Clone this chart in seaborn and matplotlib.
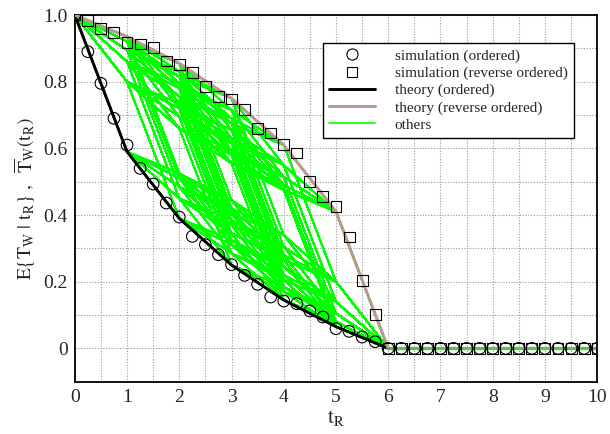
import itertools
import numpy as np
import pandas as pd
import matplotlib
matplotlib.use('Agg')
import matplotlib.pyplot as plt
from matplotlib.lines import Line2D
from matplotlib.ticker import MultipleLocator
import seaborn as sns

# ── Data ──────────────────────────────────────────────────────────────
# job weights, largest first (ordered theory = cumulative drop)
weights = [0.41, 0.20, 0.14, 0.105, 0.08, 0.065]
t_int = [0, 1, 2, 3, 4, 5, 6]
t_tail = [6, 10]
tail_vals = [0.0, 0.0]

t_sim = [0, 0.25, 0.5, 0.75, 1, 1.25, 1.5, 1.75, 2, 2.25, 2.5, 2.75, 3,
         3.25, 3.5, 3.75, 4, 4.25, 4.5, 4.75, 5, 5.25, 5.5, 5.75, 6,
         6.25, 6.5, 6.75, 7, 7.25, 7.5, 7.75, 8, 8.25, 8.5, 8.75, 9,
         9.25, 9.5, 9.75, 10]
sim_ordered = [1.0, 0.89, 0.795, 0.69, 0.61, 0.54, 0.493, 0.436, 0.394,
               0.336, 0.311, 0.281, 0.251, 0.219, 0.192, 0.154, 0.142,
               0.134, 0.112, 0.094, 0.059, 0.051, 0.034, 0.02, 0.0,
               0, 0, 0, 0, 0, 0, 0, 0, 0, 0, 0, 0, 0, 0, 0, 0]
sim_reverse = [1.0, 0.983, 0.96, 0.947, 0.917, 0.913, 0.902, 0.862, 0.852,
               0.827, 0.785, 0.755, 0.748, 0.716, 0.66, 0.646, 0.611,
               0.586, 0.501, 0.456, 0.426, 0.334, 0.204, 0.102, 0.0,
               0, 0, 0, 0, 0, 0, 0, 0, 0, 0, 0, 0, 0, 0, 0, 0]


def remaining(order):
    vals = [1.0]
    for w in order:
        vals.append(vals[-1] - w)
    vals[-1] = 0.0
    return vals


theory_ordered = remaining(weights)
theory_reverse = remaining(weights[::-1])

# every other processing order -> "others"
rows = []
for k, perm in enumerate(itertools.permutations(weights)):
    if list(perm) in (weights, weights[::-1]):
        continue
    for t, v in zip(t_int, remaining(perm)):
        rows.append((k, t, v))
others = pd.DataFrame(rows, columns=['perm', 't', 'v'])

# ── Style ─────────────────────────────────────────────────────────────
sns.set_theme(style='white')
plt.rcParams['font.family'] = ['Liberation Serif', 'DejaVu Serif']
plt.rcParams['mathtext.fontset'] = 'stix'

fig = plt.figure(figsize=(6.1, 4.34), dpi=100)
ax = fig.add_axes([0.1226, 0.1205, 0.8564, 0.8449])

sns.lineplot(data=others, x='t', y='v', units='perm', estimator=None,
             color='#00ff00', lw=1.1, ax=ax, legend=False, zorder=2)
ax.plot(t_tail, tail_vals, color='#5cc44a', lw=2.4, zorder=2)
sns.lineplot(x=t_int, y=theory_ordered, color='black', lw=2.1, ax=ax,
             zorder=3)
sns.lineplot(x=t_int, y=theory_reverse, color='#bc9a94', lw=2.2, ax=ax,
             zorder=3)
ax.scatter(t_sim, sim_ordered, s=70, marker='o', facecolors='none',
           edgecolors='black', linewidths=0.8, zorder=4)
ax.scatter(t_sim, sim_reverse, s=62, marker='s', facecolors='none',
           edgecolors='black', linewidths=0.8, zorder=5)

ax.set_xlim(0, 10)
ax.set_ylim(-0.1, 1.0)
ax.xaxis.set_major_locator(MultipleLocator(1))
ax.xaxis.set_minor_locator(MultipleLocator(0.5))
ax.yaxis.set_minor_locator(MultipleLocator(0.1))
ax.set_yticks([0, 0.2, 0.4, 0.6, 0.8, 1.0])
ax.set_yticklabels(['0', '0.2', '0.4', '0.6', '0.8', '1.0'])
ax.grid(True, which='both', color='#9a9a9a', ls=(0, (1, 1.5)), lw=0.8)
ax.tick_params(which='both', length=0, labelsize=14, pad=5)
for s in ax.spines.values():
    s.set_color('black')
    s.set_linewidth(1.3)

ax.set_xlabel(r'$\mathrm{t_R}$', fontsize=15, labelpad=2)
ax.set_ylabel(r'$\mathrm{E\{T_W\ |\ t_R\}\ ,\ \ \overline{T}_W(t_R)}$',
              fontsize=14, labelpad=4)

handles = [
    Line2D([], [], ls='none', marker='o', mfc='none', mec='black',
           ms=8, mew=0.8),
    Line2D([], [], ls='none', marker='s', mfc='none', mec='black',
           ms=7.5, mew=0.8),
    Line2D([], [], color='black', lw=2.1),
    Line2D([], [], color='#bc9a94', lw=2.2),
    Line2D([], [], color='#00ff00', lw=1.2),
]
labels = ['simulation (ordered)', 'simulation (reverse ordered)',
          'theory (ordered)', 'theory (reverse ordered)', 'others']
leg = ax.legend(handles, labels, loc='upper left',
                bbox_to_anchor=(0.475, 0.924), borderaxespad=0,
                fontsize=11, handlelength=3.0, handletextpad=1.3,
                labelspacing=0.22, fancybox=False, framealpha=1,
                edgecolor='black', borderpad=0.4)
leg.get_frame().set_linewidth(1.0)

fig.savefig('out.png', dpi=100)
